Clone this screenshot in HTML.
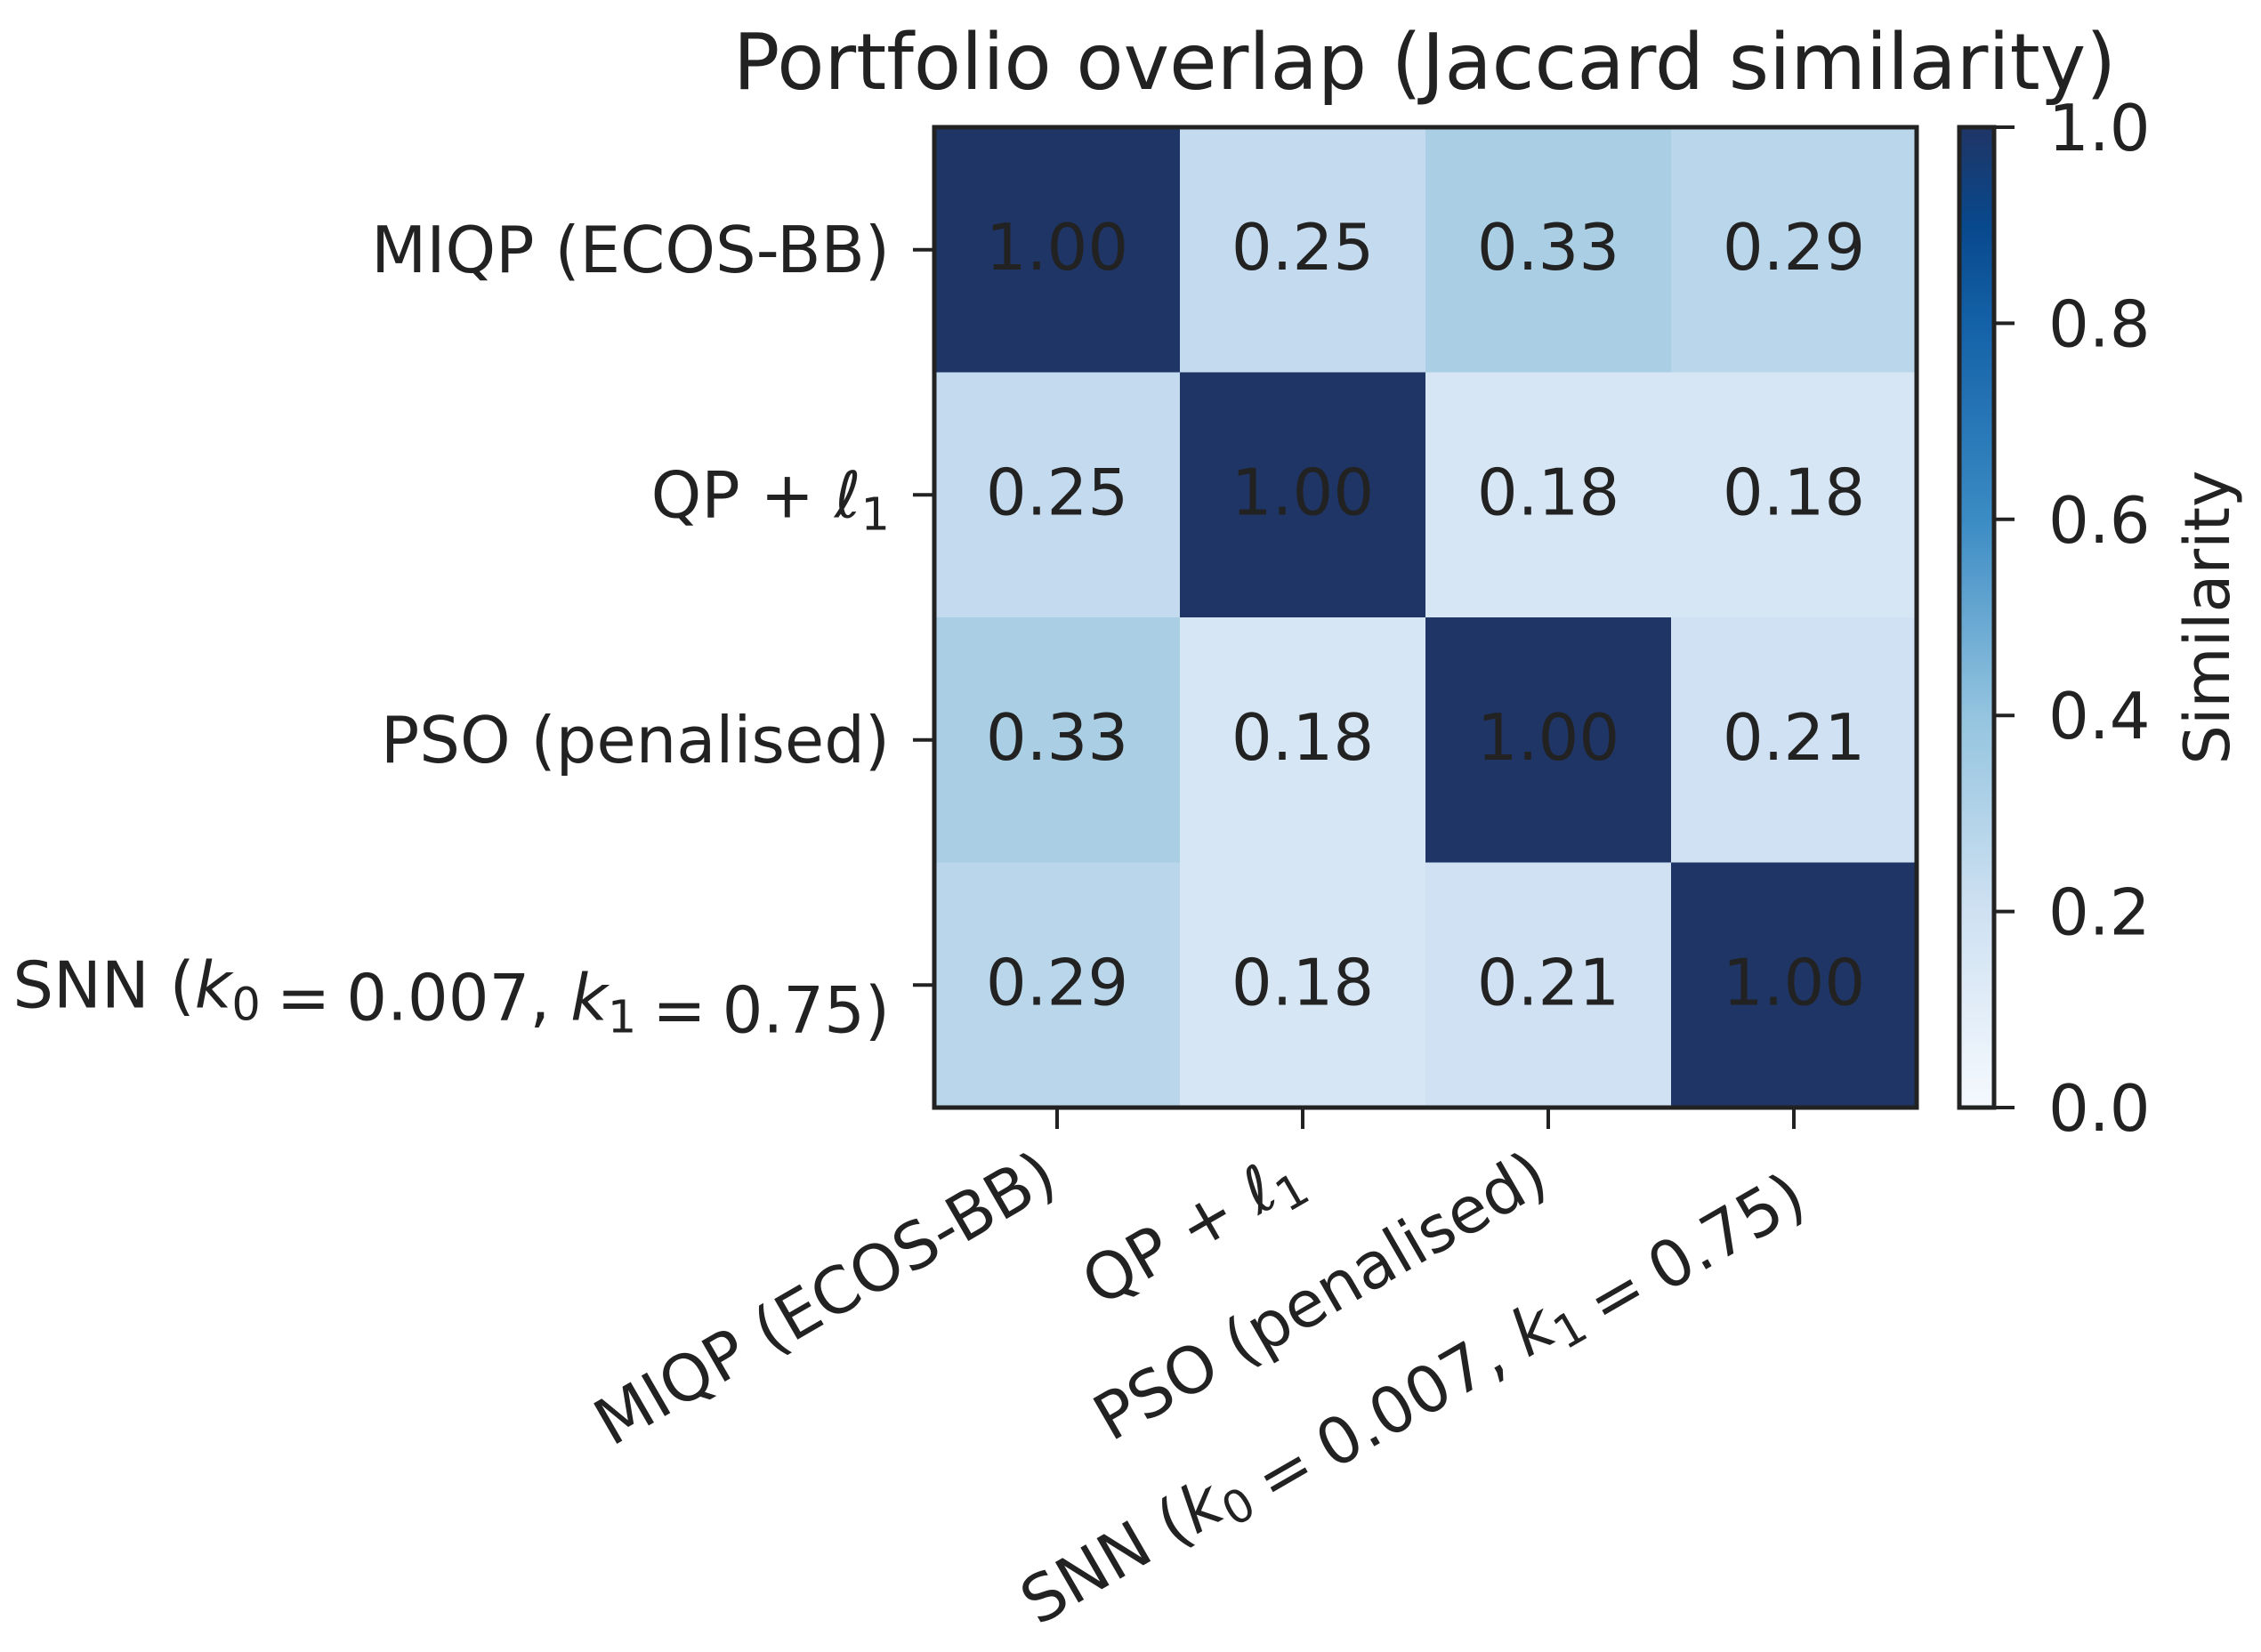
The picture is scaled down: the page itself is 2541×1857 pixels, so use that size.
<!DOCTYPE html>
<html><head><meta charset="utf-8"><style>
html,body{margin:0;padding:0;background:#fff;}
svg{display:block;font-family:"DejaVu Sans","Liberation Sans",sans-serif;}
</style></head><body>
<svg id="chart" width="2541" height="1857" viewBox="0 0 2541 1857" xmlns="http://www.w3.org/2000/svg">
<text x="1601" y="100" font-size="87" text-anchor="middle" fill="#222">Portfolio overlap (Jaccard similarity)</text>
<g id="cells"></g>
<rect x="1050" y="143" width="1104" height="1102" fill="none" stroke="#222" stroke-width="5"/>
<g id="yticks"></g>
<g id="xticks"></g>
<defs><linearGradient id="cbgrad" x1="0" y1="1" x2="0" y2="0">
<stop offset="0" stop-color="#f5f9fe"/><stop offset="0.2" stop-color="#cfe1f2"/><stop offset="0.4" stop-color="#94c4df"/><stop offset="0.6" stop-color="#3b8bc4"/><stop offset="0.8" stop-color="#1461a8"/><stop offset="0.9" stop-color="#08488c"/><stop offset="1" stop-color="#1f3566"/>
</linearGradient></defs>
<rect x="2202" y="143" width="39" height="1102" fill="url(#cbgrad)" stroke="#222" stroke-width="5"/>
<g id="cbticks"></g>
<text transform="translate(2505,694) rotate(-90)" font-size="70" text-anchor="middle" fill="#222">Similarity</text>
</svg>
<script>
const categories = ["MIQP (ECOS-BB)", "QP + ℓ1", "PSO (penalised)", "SNN (k0 = 0.007, k1 = 0.75)"];
const row0 = [1.00, 0.25, 0.33, 0.29];
const row1 = [0.25, 1.00, 0.18, 0.18];
const row2 = [0.33, 0.18, 1.00, 0.21];
const row3 = [0.29, 0.18, 0.21, 1.00];
const cbTicks = [0.0, 0.2, 0.4, 0.6, 0.8, 1.0];
const cbTickLabels = ["0.0", "0.2", "0.4", "0.6", "0.8", "1.0"];

const rows = [row0, row1, row2, row3];
const NS = "http://www.w3.org/2000/svg";
const X0 = 1050, Y0 = 143, W = 1104, H = 1102;
const n = categories.length;
const cw = W / n, ch = H / n;
const xPos = i => X0 + i * cw;
const yPos = i => Y0 + i * ch;
const cbY = v => 1245 - v * 1102;
const stops = [[0,[245,249,254]],[0.18,[214,230,244]],[0.21,[207,225,242]],[0.25,[196,218,238]],[0.29,[186,214,235]],[0.33,[170,207,229]],[0.4,[148,196,223]],[0.6,[59,139,196]],[0.8,[20,97,168]],[0.9,[8,72,140]],[1,[31,53,102]]];
function color(v){
  for(let i=1;i<stops.length;i++){
    if(v<=stops[i][0]){
      const a=stops[i-1],b=stops[i],t=(v-a[0])/(b[0]-a[0]);
      const c=a[1].map((x,k)=>Math.round(x+(b[1][k]-x)*t));
      return `rgb(${c.join(',')})`;
    }
  }
  return 'rgb(31,53,102)';
}
function mk(tag, attrs, parent){
  const e=document.createElementNS(NS,tag);
  for(const k in attrs) e.setAttribute(k,attrs[k]);
  parent.appendChild(e); return e;
}
function labelContent(el, i){
  const parts = [
    [["MIQP (ECOS-BB)", false, false]],
    [["QP + ", false, false],["ℓ", true, false],["1", false, true]],
    [["PSO (penalised)", false, false]],
    [["SNN (", false, false],["k", true, false],["0", false, true],["\u2005=\u20050.007, ", false, false],["k", true, false],["1", false, true],["\u2005=\u20050.75)", false, false]]
  ][i];
  if(!parts){ el.textContent = categories[i]; return; }
  parts.forEach(p=>{
    const t=document.createElementNS(NS,'tspan');
    t.textContent=p[0];
    if(p[1]) t.setAttribute('font-style','italic');
    if(p[2]){ t.setAttribute('font-size','51'); t.setAttribute('dy','14'); }
    el.appendChild(t);
    if(p[2]){ const r=document.createElementNS(NS,'tspan'); r.setAttribute('dy','-14'); r.textContent=''; el.appendChild(r); }
  });
}
const cells=document.getElementById('cells');
rows.forEach((r,i)=>r.forEach((v,j)=>{
  const rc=mk('rect',{x:xPos(j),y:yPos(i),width:cw+0.5,height:ch+0.5,fill:color(v)},cells);
  
  
  const t=mk('text',{x:xPos(j)+cw/2,y:yPos(i)+ch/2+22,'font-size':'72','text-anchor':'middle',fill:'#222'},cells);
  
  
  t.textContent=v.toFixed(2);
}));
const yt=document.getElementById('yticks');
categories.forEach((c,i)=>{
  const y=yPos(i)+ch/2;
  const l=mk('line',{x1:1026,x2:1050,y1:y,y2:y,stroke:'#222','stroke-width':4},yt);
  
  
  const t=mk('text',{x:1000,y:y+25,'font-size':'72','text-anchor':'end',fill:'#222'},yt);
  
  
  labelContent(t,i);
});
const xt=document.getElementById('xticks');
categories.forEach((c,i)=>{
  const x=xPos(i)+cw/2;
  const l=mk('line',{x1:x,x2:x,y1:1245,y2:1269,stroke:'#222','stroke-width':4},xt);
  
  
  const t=mk('text',{transform:`translate(${x-22},${1290}) rotate(-30)`,'font-size':'72','text-anchor':'end',fill:'#222',dy:'52'},xt);
  
  
  labelContent(t,i);
});
const cb=document.getElementById('cbticks');
cbTicks.forEach((v,i)=>{
  const y=cbY(v);
  const l=mk('line',{x1:2241,x2:2264,y1:y,y2:y,stroke:'#222','stroke-width':4},cb);
  
  
  const t=mk('text',{x:2302,y:y+26,'font-size':'72',fill:'#222'},cb);
  
  
  t.textContent=cbTickLabels[i];
});
</script>
</body></html>
